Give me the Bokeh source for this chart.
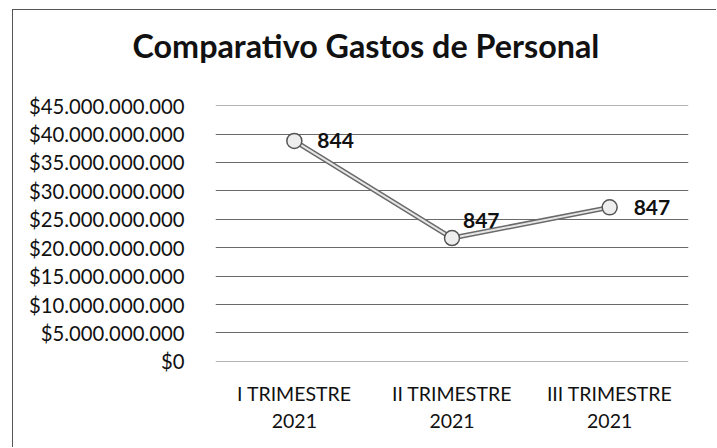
from bokeh.plotting import figure
from bokeh.models import Range1d, FixedTicker, ColumnDataSource, LabelSet, Title
from bokeh.core.properties import value
from bokeh.embed import file_html
from bokeh.resources import INLINE

categories = ["I TRIMESTRE\n2021", "II TRIMESTRE\n2021", "III TRIMESTRE\n2021"]
gastos = [38.8e9, 21.7e9, 27.1e9]
etiquetas = ["844", "847", "847"]
tick_values = [0, 5e9, 10e9, 15e9, 20e9, 25e9, 30e9, 35e9, 40e9, 45e9]
tick_labels = ["$0", "$5.000.000.000", "$10.000.000.000", "$15.000.000.000",
               "$20.000.000.000", "$25.000.000.000", "$30.000.000.000",
               "$35.000.000.000", "$40.000.000.000", "$45.000.000.000"]
titulo = "Comparativo Gastos de Personal"

FONT = "Lato"

p = figure(x_range=categories, y_range=Range1d(-0.03e9, 45.03e9), width=704, height=438,
           output_backend="svg", toolbar_location=None,
           min_border_left=202, min_border_right=29, min_border_top=95, min_border_bottom=87)
p.styles = {"margin-left": "12px", "margin-top": "9px",
            "border-left": "1px solid #555555", "border-top": "1px solid #555555"}
p.outline_line_color = None
p.background_fill_color = "white"
p.title.text = ""

p.yaxis.ticker = FixedTicker(ticks=tick_values)
p.yaxis.major_label_overrides = {v: l for v, l in zip(tick_values, tick_labels)}
for ax in (p.xaxis[0], p.yaxis[0]):
    ax.axis_line_color = None
    ax.major_tick_line_color = None
    ax.minor_tick_line_color = None
    ax.major_label_text_font = FONT
    ax.major_label_text_color = "#111111"
p.yaxis.major_label_text_font_size = "20.3px"
p.yaxis.major_label_standoff = 25
p.xaxis.major_label_text_font_size = "19.5px"
p.xaxis.major_label_standoff = 14
p.xgrid.grid_line_color = None
p.ygrid.grid_line_color = "#6a6a6a"
p.ygrid.grid_line_width = 1

src = ColumnDataSource(dict(x=categories, y=gastos, t=etiquetas,
                            dx=[23, 11, 24], dy=[0, 18, 0]))
p.line("x", "y", source=src, line_color="#6a6a6a", line_width=5)
p.line("x", "y", source=src, line_color="#e6e6e6", line_width=2)
p.scatter("x", "y", source=src, size=15, fill_color="#eeeeee", line_color="#555555", line_width=1.5)

labels = LabelSet(x="x", y="y", text="t", source=src, x_offset="dx", y_offset="dy",
                  text_font=value(FONT), text_font_style="bold", text_font_size="21px",
                  text_baseline="middle", text_align="left", text_color="#111111")
p.add_layout(labels)

# spacer between frame and title
p.add_layout(Title(text=" ", text_font_size="1px", standoff=38), "above")
p.add_layout(Title(text=titulo, text_font=FONT, text_font_style="bold",
                   text_font_size="32.3px", align="left", offset=-83, standoff=0,
                   text_color="#111111"), "above")

open("out.html", "w").write(file_html(p, INLINE))
